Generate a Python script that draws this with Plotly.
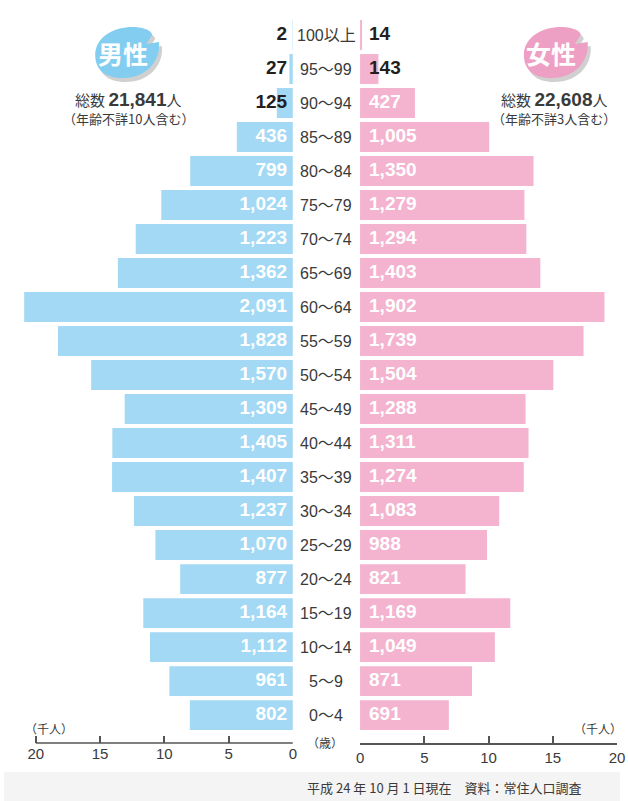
import plotly.graph_objects as go

# ---------------- data ----------------
ages = ["100以上", "95〜99", "90〜94", "85〜89", "80〜84", "75〜79", "70〜74",
        "65〜69", "60〜64", "55〜59", "50〜54", "45〜49", "40〜44", "35〜39",
        "30〜34", "25〜29", "20〜24", "15〜19", "10〜14", "5〜9", "0〜4"]
male = [2, 27, 125, 436, 799, 1024, 1223, 1362, 2091, 1828, 1570, 1309, 1405,
        1407, 1237, 1070, 877, 1164, 1112, 961, 802]
female = [14, 143, 427, 1005, 1350, 1279, 1294, 1403, 1902, 1739, 1504, 1288,
          1311, 1274, 1083, 988, 821, 1169, 1049, 871, 691]
ticks = [0, 5, 10, 15, 20]
male_total = "21,841"
female_total = "22,608"
male_unknown = "10"
female_unknown = "3"

W, H = 628, 801


def px(x):
    return x / W


def py(y):
    return 1 - y / H


MALE_BAR = "#a3d9f4"
FEMALE_BAR = "#f4b3cf"
MALE_BLOB = "#82cdf0"
FEMALE_BLOB = "#ee9fc4"
DARK = "#231f20"
TXT = "#3a3a3a"
AXC = "#555555"
NUMF = "Liberation Sans, Arial, Noto Sans CJK JP"
JPF = "Noto Sans CJK JP, Liberation Sans"

SCALE = 13.1          # pixels per axis unit
ZERO_L = 294.5        # pixel of 0 on the male axis
ZERO_R = 363.0        # pixel of 0 on the female axis
L_MAX = 21.5          # male range extends past 20 so the longest bar is not clipped

idx = list(range(len(ages)))
mval = [m / 100 for m in male]
fval = [f / 100 for f in female]

fig = go.Figure()
fig.add_trace(go.Bar(x=mval, y=idx, orientation="h", xaxis="x", yaxis="y",
                     marker=dict(color=MALE_BAR, line=dict(width=0)),
                     width=0.88, hoverinfo="skip", showlegend=False))
fig.add_trace(go.Bar(x=fval, y=idx, orientation="h", xaxis="x2", yaxis="y",
                     marker=dict(color=FEMALE_BAR, line=dict(width=0)),
                     width=0.88, hoverinfo="skip", showlegend=False))

mcol = [DARK if m < 300 else "white" for m in male]
fcol = [DARK if f < 300 else "white" for f in female]
fig.add_trace(go.Scatter(x=[0.45] * len(idx), y=idx, mode="text",
                         text=[f"{m:,}" for m in male], textposition="middle left",
                         textfont=dict(color=mcol, size=19, family=NUMF, weight="bold"),
                         xaxis="x", yaxis="y", hoverinfo="skip", showlegend=False))
fig.add_trace(go.Scatter(x=[0.7] * len(idx), y=idx, mode="text",
                         text=[f"{f:,}" for f in female], textposition="middle right",
                         textfont=dict(color=fcol, size=19, family=NUMF, weight="bold"),
                         xaxis="x2", yaxis="y", hoverinfo="skip", showlegend=False))

annotations = []
for i, a in enumerate(ages):
    annotations.append(dict(x=px(328.5), y=i, xref="paper", yref="y", text=a,
                            showarrow=False, xanchor="center", yanchor="middle",
                            font=dict(size=16, color=TXT, family=NUMF)))


def ann(x, y, text, size, anchor="center", color=TXT, family=JPF):
    annotations.append(dict(x=px(x), y=py(y), xref="paper", yref="paper", text=text,
                            showarrow=False, xanchor=anchor, yanchor="middle",
                            font=dict(size=size, color=color, family=family)))


# headers
ann(121, 53, "<b>男性</b>", 25, color="white")
ann(558, 53, "<b>女性</b>", 25, color="white")
num_span = "<span style='font-family:Liberation Sans;font-size:19px'><b>{}</b></span>"
ann(127, 100, "総数 " + num_span.format(male_total) + "人", 15)
ann(127, 118, f"（年齢不詳{male_unknown}人含む）", 13)
ann(561, 100, "総数 " + num_span.format(female_total) + "人", 15)
ann(561, 118, f"（年齢不詳{female_unknown}人含む）", 13)
ann(46, 728, "（千人）", 12)
ann(632, 728, "（千人）", 12, anchor="right")
ann(327, 742, "（歳）", 12)
ann(307, 787, "平成 24 年 10 月 1 日現在　資料：常住人口調査", 13, anchor="left")


def path_pixels(points_cmd, dx, dy=0):
    out = []
    for cmd in points_cmd:
        if isinstance(cmd, str):
            out.append(cmd)
        else:
            x, y = cmd
            out.append(f"{px(x + dx):.5f},{py(y + dy):.5f}")
    return " ".join(out)


blob = ["M", (93, 55), "C", (93, 36), (114, 26), (134, 27), "C", (144, 28), (151, 31), (151, 35),
        "L", (145, 44), "L", (158, 42), "C", (160, 60), (146, 78), (121, 78),
        "C", (101, 78), (93, 68), (93, 55), "Z"]

shapes = [
    dict(type="rect", xref="paper", yref="paper", x0=0, x1=1, y0=0, y1=py(772),
         fillcolor="#f4f4f4", line=dict(width=0), layer="below"),
    # male axis baseline, drawn from 20 to 0 on the male axis scale
    dict(type="line", xref="x", yref="paper", x0=ticks[-1], x1=ticks[0],
         y0=py(743), y1=py(743), line=dict(color=AXC, width=1.5)),
]
for dx, col in [(0, MALE_BLOB), (437, FEMALE_BLOB)]:
    shapes.append(dict(type="path", xref="paper", yref="paper",
                       path=path_pixels(blob, dx + 3, 4), fillcolor="rgba(120,120,120,0.35)",
                       line=dict(width=0), layer="below"))
    shapes.append(dict(type="path", xref="paper", yref="paper",
                       path=path_pixels(blob, dx, 0), fillcolor=col,
                       line=dict(width=0), layer="below"))

axis_common = dict(showgrid=False, zeroline=False, linecolor=AXC,
                   linewidth=1.5, ticks="inside", ticklen=7, tickwidth=1.5,
                   tickcolor=AXC, tickvals=ticks, ticktext=[str(t) for t in ticks],
                   tickfont=dict(size=15, color=TXT, family=NUMF), anchor="y",
                   fixedrange=True, ticklabeloverflow="allow")

fig.update_layout(
    width=W, height=H, margin=dict(l=0, r=0, t=0, b=0),
    paper_bgcolor="white", plot_bgcolor="rgba(0,0,0,0)",
    barmode="overlay", showlegend=False,
    xaxis=dict(domain=[px(ZERO_L - L_MAX * SCALE), px(ZERO_L)], range=[L_MAX, 0],
               showline=False, **axis_common),
    xaxis2=dict(domain=[px(ZERO_R), min(1.0, px(ZERO_R + 20 * SCALE))], range=[0, 20],
                showline=True, **axis_common),
    yaxis=dict(domain=[py(743), py(18)], range=[20.82, -0.5], visible=False,
               fixedrange=True),
    annotations=annotations, shapes=shapes,
)

fig.write_html("out.html", config={"displayModeBar": False, "responsive": False},
               post_script="document.body.style.margin='0px';"
                           "document.body.style.overflow='hidden';"
                           "document.documentElement.style.overflow='hidden';")
